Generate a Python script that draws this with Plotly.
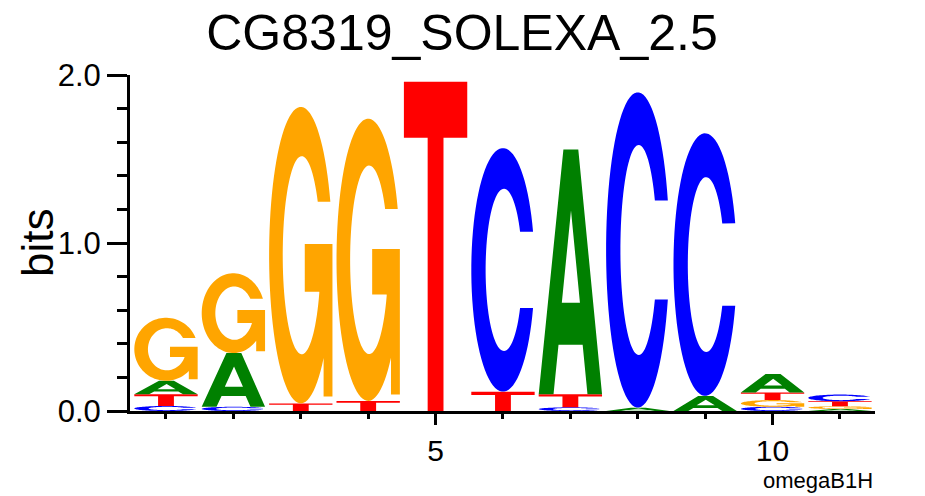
import numpy as np
import plotly.graph_objects as go

# ---------------- data (bits per letter at each position) ----------------
positions = list(range(1, 12))
bits_A = [0.080, 0.320, 0.000, 0.000, 0.000, 0.000, 1.457, 0.020, 0.090, 0.110, 0.012]
bits_C = [0.030, 0.025, 0.000, 0.000, 0.000, 1.450, 0.022, 1.877, 1.563, 0.025, 0.040]
bits_G = [0.375, 0.475, 1.765, 1.680, 0.000, 0.000, 0.000, 0.000, 0.000, 0.040, 0.016]
bits_T = [0.070, 0.000, 0.045, 0.060, 1.960, 0.115, 0.078, 0.000, 0.000, 0.045, 0.030]

title_text = "CG8319_SOLEXA_2.5"
x_tick_vals = [5, 10]
y_tick_vals = [0.0, 1.0, 2.0]
y_tick_text = ["0.0", "1.0", "2.0"]
y_label = "bits"
footer_text = "omegaB1H"

colors = {"A": "#008000", "C": "#0000FF", "G": "#FFA500", "T": "#FF0000"}
letter_width = 0.94


# ---------------- glyph outlines in a unit box ----------------
def arc(cx, cy, rx, ry, t0, t1, n=80):
    t = np.radians(np.linspace(t0, t1, n))
    return list(zip(cx + rx * np.cos(t), cy + ry * np.sin(t)))


def glyph(letter):
    if letter == "A":
        outer = [(0, 0), (0.39, 1), (0.625, 1), (1, 0), (0.77, 0),
                 (0.694, 0.202), (0.313, 0.202), (0.234, 0)]
        hole = [(0.365, 0.374), (0.51, 0.75), (0.651, 0.374)]
        return [outer, hole]
    if letter == "T":
        return [[(0, 1), (1, 1), (1, 0.83), (0.625, 0.83), (0.625, 0),
                 (0.375, 0), (0.375, 0.83), (0, 0.83)]]
    if letter == "C":
        pts = arc(0.5, 0.5, 0.5, 0.5, 18.3, 341.7)
        pts += arc(0.515, 0.5, 0.289, 0.333, -28.1, -331.9)
        return [pts]
    if letter == "G":
        pts = arc(0.5, 0.5, 0.5, 0.5, 21.1, 316.1)
        pts += [(0.86, 0.023), (1.0, 0.023), (1.0, 0.538), (0.563, 0.538),
                (0.563, 0.377), (0.79, 0.377)]
        pts += arc(0.515, 0.5, 0.30, 0.334, -22, -327.4)
        return [pts]
    return []


def glyph_path(letter, xc, base, h):
    parts = []
    for poly in glyph(letter):
        seg = []
        for i, (u, v) in enumerate(poly):
            X = xc + (u - 0.5) * letter_width
            Y = base + v * h
            seg.append(("M" if i == 0 else "L") + f"{X:.5f},{Y:.5f}")
        parts.append(" ".join(seg) + " Z")
    return " ".join(parts)


fig = go.Figure()

shapes = []
series = {"A": bits_A, "C": bits_C, "G": bits_G, "T": bits_T}
for i, pos in enumerate(positions):
    stack = sorted(((series[L][i], L) for L in series if series[L][i] > 0))
    base = 0.0
    for h, L in stack:
        shapes.append(dict(type="path", xref="x", yref="y",
                           path=glyph_path(L, pos, base, h),
                           fillcolor=colors[L], line=dict(width=0),
                           fillrule="evenodd", layer="below"))
        base += h

font_family = "Liberation Sans, Arial, Helvetica, sans-serif"

fig.update_layout(
    width=925, height=496,
    margin=dict(l=130, r=50, t=75, b=85),
    plot_bgcolor="white", paper_bgcolor="white",
    showlegend=False,
    shapes=shapes,
    title=dict(text=title_text, x=(462 - 130) / 745, xanchor="center", xref="paper",
               y=1 - 32 / 496, yanchor="middle", yref="container",
               font=dict(family=font_family, size=50, color="black")),
    font=dict(family=font_family, color="black"),
)

fig.update_xaxes(
    range=[0.466, 11.52], tickmode="array", tickvals=x_tick_vals,
    ticktext=[str(v) for v in x_tick_vals],
    ticks="outside", ticklen=11, tickwidth=3, tickcolor="black",
    showline=True, linewidth=3, linecolor="black",
    showgrid=False, zeroline=False,
    tickfont=dict(size=30, family=font_family, color="black"),
    minor=dict(tickmode="array", tickvals=positions, ticks="outside",
               ticklen=5, tickwidth=3, tickcolor="black", showgrid=False),
)
fig.update_yaxes(
    range=[0, 2], tickmode="array", tickvals=y_tick_vals, ticktext=y_tick_text,
    ticks="outside", ticklen=20, tickwidth=3, tickcolor="black",
    showline=True, linewidth=3, linecolor="black",
    showgrid=False, zeroline=False,
    tickfont=dict(size=31, family=font_family, color="black"),
    minor=dict(dtick=0.2, tick0=0, ticks="outside", ticklen=10, tickwidth=3,
               tickcolor="black", showgrid=False),
)

fig.add_annotation(text=y_label, xref="paper", yref="paper",
                   x=(37 - 130) / 745, y=(411 - 243) / 336,
                   xanchor="center", yanchor="middle", textangle=-90,
                   showarrow=False,
                   font=dict(size=44, family=font_family, color="black"))
fig.add_annotation(text=footer_text, xref="paper", yref="paper",
                   x=1.0, y=(411 - 480) / 336, xanchor="right", yanchor="middle",
                   showarrow=False,
                   font=dict(size=22, family=font_family, color="black"))

fig.write_html("out.html",
               config={"displayModeBar": False},
               post_script="document.body.style.margin='0px';document.body.style.overflow='hidden';")
